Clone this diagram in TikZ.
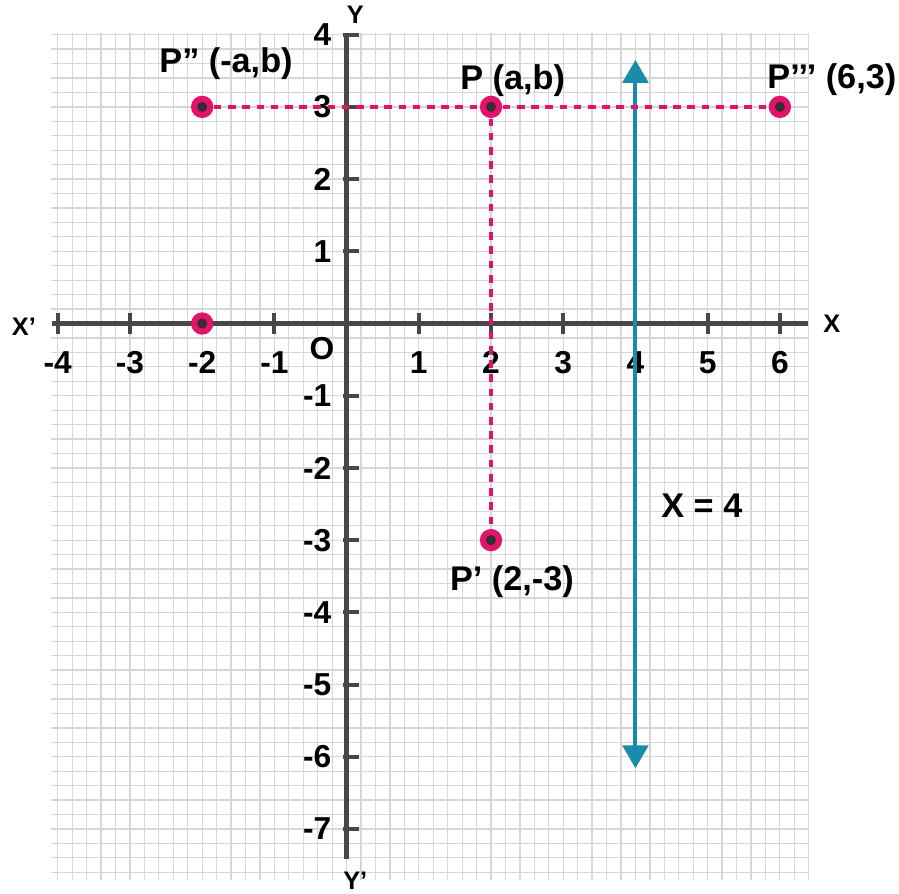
\documentclass[tikz,border=0pt]{standalone}
\usepackage{fontspec}
\setmainfont{Liberation Sans}
\definecolor{gridGray}{HTML}{D6D6D6}
\definecolor{axisGray}{HTML}{474747}
\definecolor{ptPink}{HTML}{E2136D}
\definecolor{ptDark}{HTML}{3A2B33}
\definecolor{lineTeal}{HTML}{1A8BAA}
\usetikzlibrary{arrows.meta, positioning}

\begin{document}
\begin{tikzpicture}[
  gridline/.style={gridGray, line width=0.5pt},
  axis/.style={axisGray, line width=1.8pt},
  tick/.style={axisGray, line width=1.6pt},
  num/.style={font=\bfseries\fontsize{12.5}{14}\selectfont, inner sep=1pt},
  axlabel/.style={font=\bfseries\fontsize{10}{12}\selectfont, inner sep=1pt},
  ptlabel/.style={font=\bfseries\fontsize{13.5}{16}\selectfont, inner sep=1pt},
  pt/.style={circle, fill=ptPink, minimum size=0.31cm, inner sep=0pt,
    path picture={\fill[ptDark] (path picture bounding box.center) circle (0.07);}},
  guide/.style={ptPink, line width=1.6pt, dash pattern=on 3pt off 2.6pt},
  vline/.style={lineTeal, line width=1.6pt,
    {Triangle[length=9pt, width=10pt]}-{Triangle[length=9pt, width=10pt]}}]
  \useasboundingbox (-4.80,-7.89) rectangle (7.65,4.48);
  % graph paper
  \draw[gridline] (-4.1,-7.7) grid[step=0.2] (6.4,4.02);
  % axes
  \draw[axis] (-4.08,0) -- (6.39,0);
  \draw[axis] (0,4.0) -- (0,-7.41);
  \foreach \x in {-4,-3,-2,-1,1,2,3,4,5,6} {
    \draw[tick] (\x,-0.15) -- (\x,0.15);
    \node[num] (xn\x) at (\x,-0.54) {\x};
  }
  \foreach \y in {-7,-6,-5,-4,-3,-2,-1,1,2,3,4} {
    \draw[tick] (-0.05,\y) -- (0.17,\y);
    \node[num, anchor=east] (yn\y) at (-0.17,\y) {\y};
  }
  \node[num] (org) at (-0.34,-0.35) {O};
  \node[axlabel] (xr) at (6.72,0) {X};
  \node[axlabel] (xl) at (-4.47,-0.05) {X’};
  \node[axlabel] (yt) at (0.12,4.27) {Y};
  \node[axlabel] (yb) at (0.12,-7.72) {Y’};
  % the line x = 4
  \coordinate (top) at (4,3.65);
  \coordinate (bot) at (4,-6.16);
  \draw[vline] (bot) -- (top);
  \node[ptlabel] (eq) at (4.92,-2.52) {X = 4};
  % points
  \node[pt] (P) at (2,3) {};
  \node[pt] (P2) at (-2,3) {};
  \node[pt] (P3) at (6,3) {};
  \node[pt] (P1) at (2,-3) {};
  \node[pt] (Q) at (-2,0) {};
  \draw[guide] (P2) -- (P);
  \draw[guide] (P) -- (P3);
  \draw[guide] (P) -- (P1);
  \node[ptlabel] (lP) at (2.3,3.37) {P (a,b)};
  \node[ptlabel] (lP2) at (-1.67,3.6) {P” (-a,b)};
  \node[ptlabel] (lP3) at (6.72,3.38) {P’’’ (6,3)};
  \node[ptlabel] (lP1) at (2.29,-3.57) {P’ (2,-3)};
\end{tikzpicture}
\end{document}
